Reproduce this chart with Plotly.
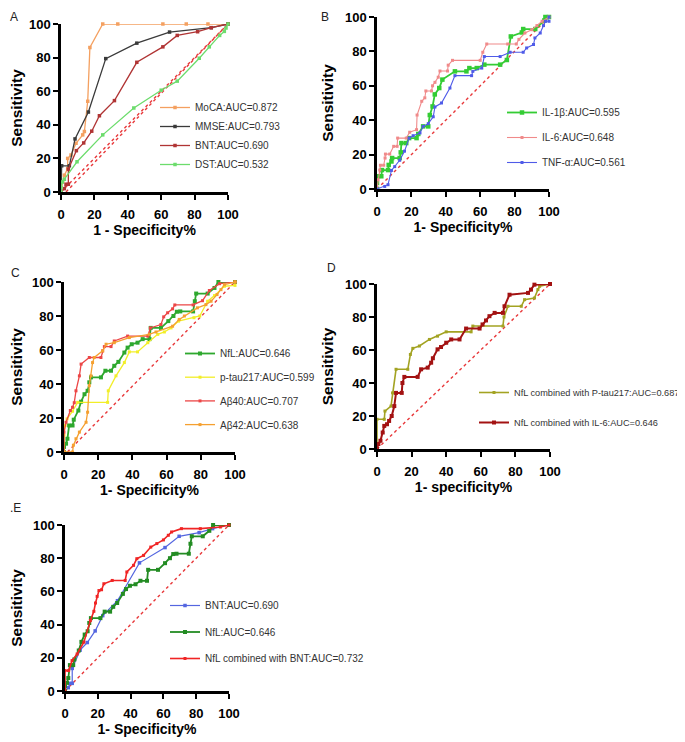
import plotly.graph_objects as go

W, H = 685, 742
OFF = 8  # the page body margin shifts the figure by this many pixels

# ---------------- data ----------------
# Panel A
moca_x = [0, 0, 1, 2, 4, 4, 6, 9, 13, 14, 16, 17.3, 25, 34, 61, 75, 88, 100]
moca_y = [0, 4, 6, 10, 14, 20, 22, 29, 34, 36, 54, 86, 100, 100, 100, 100, 100, 100]
mmse_x = [0, 0.4, 5, 8.4, 16.4, 26.8, 45.4, 65, 90, 100]
mmse_y = [0, 15.6, 15.6, 31.6, 47.6, 79.4, 88.6, 95.2, 97.8, 100]
bnt_x = [0, 2, 3, 4.4, 4.4, 9.2, 13.6, 18.4, 23, 32, 45.4, 61, 69.6, 81.8, 90, 100]
bnt_y = [0, 2, 4.6, 4.6, 13.6, 24.6, 29.2, 36.2, 45.4, 54.4, 77.2, 86.4, 93.2, 95.4, 97.8, 100]
dst_x = [0, 0, 0.8, 2, 9.6, 25, 43.6, 60, 69.6, 82.8, 88.8, 95, 97.8, 98.8, 100]
dst_y = [0, 2.6, 6, 7.6, 18, 34, 50, 60.6, 66, 79.6, 86.4, 93.2, 95.6, 97.6, 100]

# Panel B
il1b_x = [0, 0, 0.6, 2.5, 2.9, 6.4, 6.8, 8.4, 8.8, 13.2, 13.8, 14.2, 17, 18.7, 23, 24, 26.8, 29.8,
          30.7, 32.3, 33.6, 36.2, 38, 45.3, 52, 53.7, 58, 62.4, 71.6, 75.5, 77.8, 84.2, 85, 92,
          97.3, 97.9, 100]
il1b_y = [0, 3.5, 7.4, 7.4, 11, 11, 14, 16, 18, 18, 21.3, 26.7, 26.7, 29.6, 29.6, 32, 36.4, 36.4,
          43, 48, 55, 58.7, 63.6, 68.4, 68.4, 70.3, 70.3, 72.3, 72.3, 75, 88.7, 91, 93, 93,
          98, 100, 100]
il6_x = [0, 0.6, 1.6, 2, 3.9, 4.7, 4.9, 7.4, 9.7, 11.7, 12, 17, 19, 23, 23.3, 26, 27.8, 28.4, 31.7,
         32.3, 33.7, 35.6, 36.6, 41, 41.4, 43.9, 60, 61.5, 63.8, 76, 81, 82.5, 86, 90, 93, 96, 100]
il6_y = [0, 5.4, 11, 13.8, 13.8, 18, 20.3, 20.3, 24.8, 24.8, 29.6, 29.6, 33, 34.5, 43, 51, 53, 57, 57,
         60, 62, 65, 68.6, 68.6, 72, 74.8, 74.8, 79.5, 84.3, 84.3, 84.3, 87, 90.7, 92.6, 95, 97.5, 100]
tnf_x = [0, 4.5, 6.4, 8.4, 10.3, 13.2, 16, 18.7, 21, 25, 26.8, 29.8, 32.7, 33.7, 37.5, 42.4, 45.3,
         55, 55.7, 60.9, 62.4, 71.6, 77.4, 85, 87, 91, 91.8, 94.9, 96.8, 98, 100, 100]
tnf_y = [0, 1.5, 2.5, 10.8, 13, 16.7, 22, 29.6, 31, 32.6, 36.4, 38, 42, 47.7, 50, 58.7, 65.9,
         65.9, 68.4, 70.3, 77, 77, 79.5, 79.5, 82, 84, 87.8, 90.7, 95, 97.5, 97.5, 100]

# Panel C
nfl_x = [0, 0, 1.2, 2, 3, 5, 5.7, 8.4, 10, 12, 13.8, 14.8, 15.8, 21.6, 24.2, 27.5, 29.4, 31.8, 35.3,
         37.2, 39.6, 43, 46, 50, 50.7, 56.7, 61, 64, 66, 68, 75.5, 76.5, 77.3, 84, 88, 90.3, 100]
nfl_y = [0, 3, 4.9, 7.8, 15.6, 15.6, 19, 24.4, 29.6, 34, 36, 41, 43.9, 43.9, 47.8, 47.8, 50.7, 53, 58.5,
         61.4, 63.4, 64.3, 66.4, 66.4, 73, 73, 77, 80, 82.5, 82.7, 82.7, 88.7, 93.2, 93.2, 96.5, 100, 100]
ptau_x = [0, 0, 0.6, 1.8, 5, 8, 25.5, 25.9, 30.4, 35.3, 38.2, 43, 49, 54.8, 58.7, 62.6, 67, 76,
          79.4, 84, 88, 93.8, 100, 100]
ptau_y = [0, 10, 15.6, 19.5, 24, 29.2, 29.2, 36, 44.8, 52.6, 58.9, 58.9, 64.3, 69.2, 70.6, 73, 77, 79,
          80, 88.7, 92, 97.5, 98, 100]
ab40_x = [0, 0, 1.2, 3.7, 5, 6, 7, 9, 10, 14.8, 21.6, 22.6, 23.6, 27.5, 29.4, 37.2, 49, 50.5, 56.7,
          58.3, 60.6, 63.5, 64.8, 75.5, 81, 85, 91, 100]
ab40_y = [0, 11.7, 17.5, 24.4, 26.3, 29, 36, 44.8, 51.7, 55.6, 55.6, 59.5, 62, 62, 65.3, 68.2, 68.2,
          73, 75, 79.5, 81.9, 84.2, 86.5, 86.5, 89, 95, 99, 100]
ab42_x = [0, 5, 5.5, 7, 9, 12.9, 13.8, 14.8, 15.8, 16.7, 17.7, 22.6, 24.6, 29.4, 38.2, 49.9, 53.8, 63.5,
          67.4, 70.4, 78, 83, 86, 89.5, 91.8, 93.8, 100]
ab42_y = [0, 0, 4, 7.8, 11.7, 17.5, 23.4, 39, 44.8, 52.6, 55.6, 59.5, 63.4, 64.3, 67.3, 69.2, 70.6,
          74, 78, 80, 84.8, 86.7, 88.7, 92.6, 95.5, 98.4, 100]

# Panel D
ptcomb_x = [0, 0, 4.2, 4.6, 8.1, 9, 11, 17.8, 19.3, 20.7, 24.5, 30.3, 35, 40, 54.4, 55.4, 72.8, 73.4,
            75.7, 83.4, 85.3, 91, 93, 94, 100]
ptcomb_y = [0, 18, 18, 23, 26, 34, 48.3, 48.3, 57.3, 61, 62.4, 66.4, 68.4, 71, 71, 74.5, 74.5, 80,
            86.5, 86.5, 90.5, 91.5, 96.6, 98.6, 100]
il6comb_x = [0, 0.8, 2, 3.3, 4.2, 5.8, 7, 8.5, 10, 11, 14.3, 14.7, 15.8, 23.5, 25.5, 29.3, 31.3, 32.3,
             35, 37, 40, 42.9, 47.7, 51.5, 59.3, 61, 63, 65, 68, 72.8, 73.7, 76.6, 87.3, 89, 91, 100]
il6comb_y = [0, 3, 5, 10, 14, 15, 17, 20, 26, 34, 34, 40, 43.7, 43.7, 48.3, 49.3, 52.3, 55,
             60.4, 61.8, 64.4, 66.4, 66.4, 73, 73, 75.5, 77.9, 80.5, 82.5, 82.5, 86.5, 93.5, 94.6, 96.6, 99.6, 100]

# Panel E (BNT and NfL reuse the arrays above)
nflbnt_x = [0, 0, 2.2, 4.3, 7.4, 11.5, 15.5, 17.6, 18.6, 19.6, 20.7, 22.3, 23.7, 28.8, 36.7, 37.7,
            41.8, 43.8, 47.9, 52.3, 56, 60, 63, 65, 71, 82.5, 94.7, 100]
nflbnt_y = [0, 12.3, 12.3, 18.3, 22.3, 29.4, 42.5, 48, 53, 57, 60.5, 61, 64.6, 66.6, 66.6, 71.7,
            75.7, 79.7, 81.7, 86.7, 88.8, 91, 93.8, 95.8, 97.8, 97.8, 98.8, 100]

# reference diagonals
diag_full_x = [0, 100]
diag_full_y = [0, 100]
diag_off_x = [3, 100]
diag_off_y = [0, 100]
diag_c_x = [2, 100]
diag_c_y = [0, 100]

tick_vals = [0, 20, 40, 60, 80, 100]

# ---------------- layout geometry (screen pixels) ----------------
panels = {
    # name: (x0, x1, ytop, ybottom)
    "A": (61, 228, 24, 192),
    "B": (377, 549, 17, 189),
    "C": (64, 235, 282, 452),
    "D": (377, 550, 284, 449),
    "E": (65, 229, 525, 691),
}
xtitles = {"A": "1 - Specificity%", "B": "1- Specificity%", "C": "1- Specificity%",
           "D": "1- specificity%", "E": "1- Specificity%"}

FONT = "Liberation Sans, Arial, sans-serif"


def px(sx):
    return (sx - OFF) / W


def py(sy):
    return 1 - (sy - OFF) / H


fig = go.Figure()

axis_ids = {"A": ("x", "y"), "B": ("x2", "y2"), "C": ("x3", "y3"), "D": ("x4", "y4"), "E": ("x5", "y5")}
legend_ids = {"A": "legend", "B": "legend2", "C": "legend3", "D": "legend4", "E": "legend5"}


def add_curve(panel, xs, ys, name, color, width=1.3, msize=3.5, symbol="square"):
    xa, ya = axis_ids[panel]
    fig.add_trace(go.Scatter(
        x=xs, y=ys, mode="lines+markers", name=name, xaxis=xa, yaxis=ya,
        line=dict(color=color, width=width),
        marker=dict(color=color, size=msize, symbol=symbol),
        legend=legend_ids[panel], legendgroup=panel + name, cliponaxis=False))


def add_diag(panel, xs, ys):
    xa, ya = axis_ids[panel]
    fig.add_trace(go.Scatter(
        x=xs, y=ys, mode="lines", xaxis=xa, yaxis=ya, showlegend=False,
        line=dict(color="#E8383A", width=1.4, dash="dot"), hoverinfo="skip", cliponaxis=False))


# Panel A
add_diag("A", diag_full_x, diag_full_y)
add_diag("A", diag_off_x, diag_off_y)
add_curve("A", moca_x, moca_y, "MoCA:AUC=0.872", "#F4A060")
add_curve("A", mmse_x, mmse_y, "MMSE:AUC=0.793", "#3A3A3A")
add_curve("A", bnt_x, bnt_y, "BNT:AUC=0.690", "#B03434")
add_curve("A", dst_x, dst_y, "DST:AUC=0.532", "#6CDC6C")

# Panel B
add_diag("B", diag_full_x, diag_full_y)
add_curve("B", il1b_x, il1b_y, "IL-1β:AUC=0.595", "#34CC34", width=1.8, msize=4.5)
add_curve("B", il6_x, il6_y, "IL-6:AUC=0.648", "#F08A8A", width=1.1, msize=3)
add_curve("B", tnf_x, tnf_y, "TNF-α:AUC=0.561", "#4F5BE8", width=1.1, msize=3)

# Panel C
add_diag("C", diag_c_x, diag_c_y)
add_curve("C", nfl_x, nfl_y, "NfL:AUC=0.646", "#2EA82E", width=1.8, msize=4)
add_curve("C", ptau_x, ptau_y, "p-tau217:AUC=0.599", "#F2EE28", width=1.3, msize=3)
add_curve("C", ab40_x, ab40_y, "Aβ40:AUC=0.707", "#EC4646", width=1.3, msize=3)
add_curve("C", ab42_x, ab42_y, "Aβ42:AUC=0.638", "#F5A030", width=1.3, msize=3)

# Panel D
add_diag("D", diag_full_x, diag_full_y)
add_curve("D", ptcomb_x, ptcomb_y, "NfL combined with P-tau217:AUC=0.687", "#A3A322", width=1.6, msize=3)
add_curve("D", il6comb_x, il6comb_y, "NfL combined with IL-6:AUC=0.646", "#A31212", width=2.0, msize=4)

# Panel E
add_diag("E", diag_full_x, diag_full_y)
add_curve("E", bnt_x, bnt_y, "BNT:AUC=0.690", "#5466E0", width=1.2, msize=3.5)
add_curve("E", nfl_x, nfl_y, "NfL:AUC=0.646", "#238C23", width=1.8, msize=4)
add_curve("E", nflbnt_x, nflbnt_y, "NfL combined with BNT:AUC=0.732", "#F02424", width=1.6, msize=3)

layout = dict(
    width=W, height=H, margin=dict(l=0, r=0, t=0, b=0, pad=0, autoexpand=False),
    paper_bgcolor="white", plot_bgcolor="white",
    font=dict(family=FONT, color="#222222"),
)

for i, (p, (x0, x1, yt, yb)) in enumerate(panels.items()):
    suffix = "" if i == 0 else str(i + 1)
    xa = dict(domain=[px(x0), px(x1)], range=[0, 100], tickvals=tick_vals, automargin=False,
              showline=True, linewidth=2.5, linecolor="black", mirror=False,
              ticks="outside", ticklen=5, tickwidth=2, tickcolor="black",
              showgrid=False, zeroline=False, ticklabelstandoff=4,
              tickfont=dict(family=FONT, size=13, color="black", weight="bold"),
              title=dict(text=xtitles[p], font=dict(family=FONT, size=14, color="black", weight="bold"),
                         standoff=4),
              anchor="y" + suffix)
    ya = dict(domain=[py(yb), py(yt)], range=[0, 100], tickvals=tick_vals, automargin=False,
              showline=True, linewidth=2.5, linecolor="black",
              ticks="outside", ticklen=5, tickwidth=2, tickcolor="black",
              showgrid=False, zeroline=False,
              tickfont=dict(family=FONT, size=13, color="black", weight="bold"),
              title=dict(text="Sensitivity", font=dict(family=FONT, size=15.5, color="black", weight="bold"),
                         standoff=8),
              anchor="x" + suffix)
    layout["xaxis" + suffix] = xa
    layout["yaxis" + suffix] = ya

# legends: (text start x px, first item center y px, item spacing px) in screen pixels
legend_pos = {"A": (195, 107, 17), "B": (542, 112, 25), "C": (220, 353, 23.7),
              "D": (514, 392, 30), "E": (205, 605, 26.5)}
for p, (tx, cy, sp) in legend_pos.items():
    layout[legend_ids[p]] = dict(
        x=px(tx - 40), y=py(cy - 14), xanchor="left", yanchor="top",
        bgcolor="rgba(0,0,0,0)", borderwidth=0,
        font=dict(family=FONT, size=9.2 if p == "D" else 10, color="#333333"),
        tracegroupgap=max(sp - 19, 0), itemwidth=30)

fig.update_layout(**layout)

# panel letters (screen pixels of the glyph top; kept inside the figure)
letters = {"A": (14, 8), "B": (325, 8), "C": (15, 264), "D": (331, 259), "E": (15, 499)}
for p, (lx, ly) in letters.items():
    fig.add_annotation(text=".E" if p == "E" else p, x=px(lx), y=py(ly), xref="paper", yref="paper",
                       showarrow=False, xanchor="center", yanchor="top",
                       font=dict(family=FONT, size=12, color="#222222"))

fig.write_html("out.html")
